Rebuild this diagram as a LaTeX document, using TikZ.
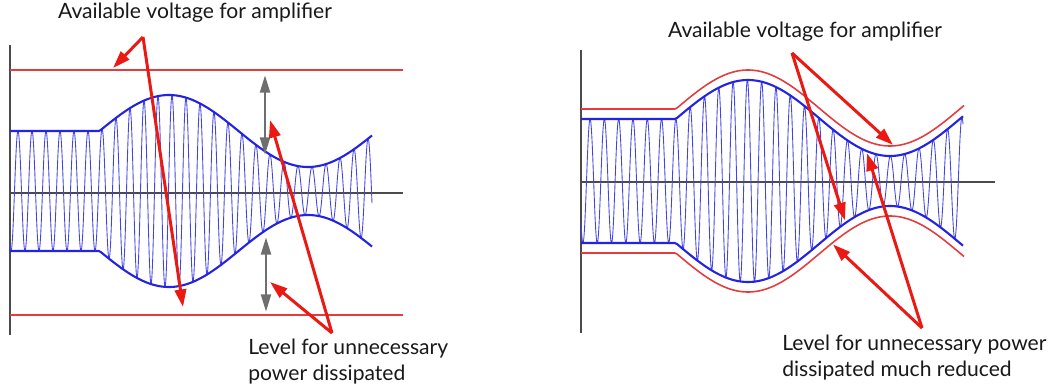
\documentclass[tikz,border=0pt]{standalone}
\usepackage{fontspec}
\setmainfont{Lato}
\usetikzlibrary{arrows.meta}
\definecolor{sigblue}{RGB}{35,35,225}
\definecolor{railred}{RGB}{228,60,60}
\definecolor{calloutred}{RGB}{235,25,20}
\definecolor{axisgrey}{RGB}{75,75,75}
\definecolor{gapgrey}{RGB}{110,110,110}

\begin{document}
\begin{tikzpicture}[x=0.02cm,y=-0.02cm,
    axis/.style={line width=1.1pt, draw=axisgrey},
    rail/.style={line width=0.9pt, draw=railred},
    env/.style={line width=1.2pt, draw=sigblue},
    carrier/.style={line width=0.5pt, draw=sigblue!85},
    callout/.style={line width=1.7pt, draw=calloutred, -{Triangle[length=10pt,width=6.5pt]}},
    gap/.style={line width=1.7pt, draw=gapgrey, {Triangle[length=10pt,width=5.5pt]}-{Triangle[length=10pt,width=5.5pt]}},
    label/.style={font=\fontsize{12}{14.5}\selectfont, text=black!90, align=left, inner sep=0pt},
    declare function={
      envL(\x)=ifthenelse(\x<99.5,60,60+36*cos((\x-169)*1.295));
      envR(\x)=ifthenelse(\x<677,62,63+38*cos((\x-748)*1.2676));
    }]
    \useasboundingbox (0,0) rectangle (1051,389);

    % left: fixed supply
    \draw[axis] (10,45) -- (10,335);
    \draw[axis] (10,193) -- (403,193);
    \draw[rail] (10,70) -- (403,70);
    \draw[rail] (10,315) -- (403,315);
    \draw[carrier] plot[domain=10:372, samples=1300] (\x,{191-envL(\x)*sin((\x-14.5)*25.714)});
    \draw[env] plot[domain=10:372, samples=160] (\x,{191-envL(\x)});
    \draw[env] plot[domain=10:372, samples=160] (\x,{191+envL(\x)});

    \coordinate (gapTopA) at (265,75);
    \coordinate (gapTopB) at (265,155);
    \coordinate (gapBotA) at (266,237);
    \coordinate (gapBotB) at (266,312);
    \draw[gap] (gapTopA) -- (gapTopB);
    \draw[gap] (gapBotA) -- (gapBotB);

    % right: tracking supply
    \draw[axis] (581,50) -- (581,333);
    \draw[axis] (581,182) -- (995,182);
    \draw[carrier] plot[domain=581:963, samples=1300] (\x,{181-envR(\x)*sin((\x-586.5)*25.175)});
    \draw[env] plot[domain=581:963, samples=160] (\x,{181-envR(\x)});
    \draw[env] plot[domain=581:963, samples=160] (\x,{181+envR(\x)});
    \draw[rail] plot[domain=581:964, samples=160] (\x,{181-envR(\x)-10});
    \draw[rail] plot[domain=581:964, samples=160] (\x,{181+envR(\x)+10});

    % labels
    \node[label] (availL) at (195,13) {Available voltage for amplifier};
    \node[label, anchor=north west] (levelL) at (248,339) {Level for unnecessary\\power dissipated};
    \node[label] (availR) at (805,32) {Available voltage for amplifier};
    \node[label, anchor=north west] (levelR) at (782,335) {Level for unnecessary power\\dissipated much reduced};

    % callouts left
    \coordinate (peakL) at (143,37);
    \coordinate (footL) at (332,333);
    \coordinate (railL) at (113,68);
    \coordinate (troughL) at (183,307);
    \coordinate (gapUpL) at (270,120);
    \coordinate (gapLowL) at (270,282);
    \draw[callout] (peakL) -- (railL);
    \draw[callout] (peakL) -- (troughL);
    \draw[callout] (footL) -- (gapUpL);
    \draw[callout] (footL) -- (gapLowL);

    % callouts right
    \coordinate (peakR) at (792,53);
    \coordinate (footR) at (922,328);
    \coordinate (railUpR) at (893,{181-envR(893)-11});
    \coordinate (envLowR) at (845,{181+envR(845)-3});
    \coordinate (envUpR) at (867,{181-envR(867)+2});
    \coordinate (railLowR) at (833,{181+envR(833)+12});
    \draw[callout] (peakR) -- (railUpR);
    \draw[callout] (peakR) -- (envLowR);
    \draw[callout] (footR) -- (envUpR);
    \draw[callout] (footR) -- (railLowR);
\end{tikzpicture}
\end{document}
